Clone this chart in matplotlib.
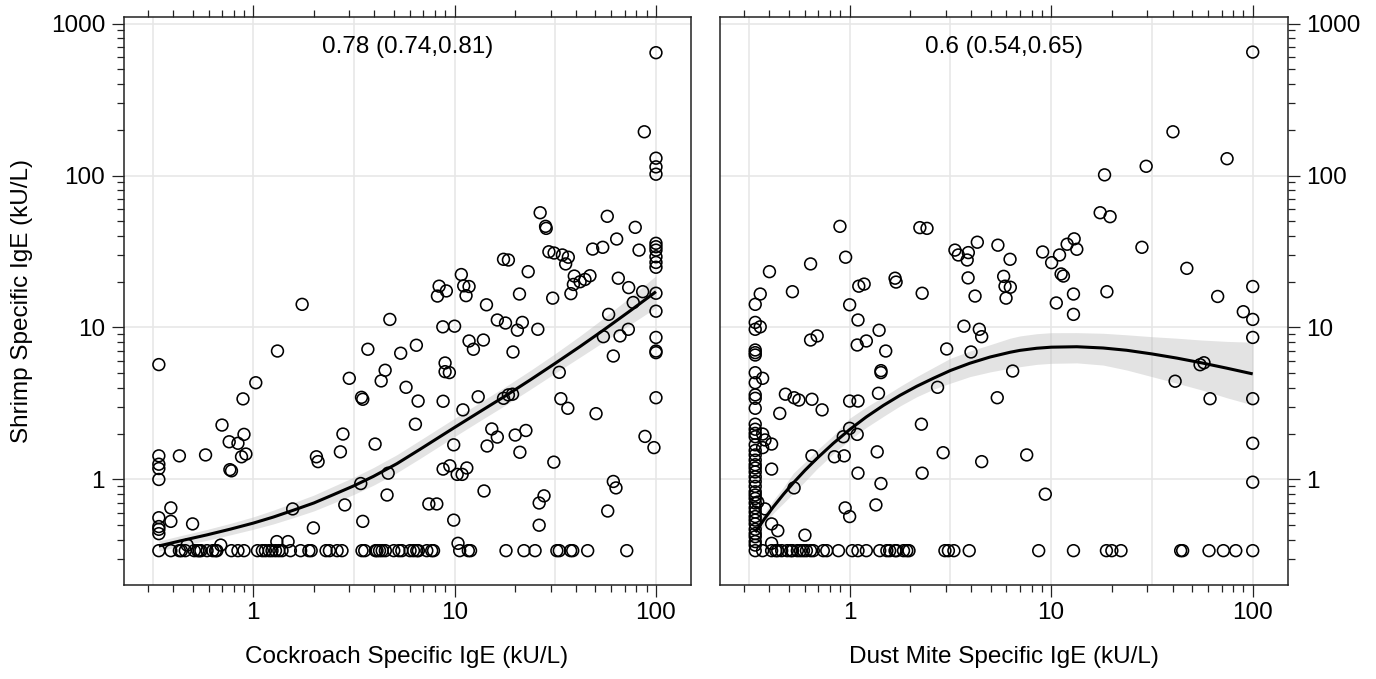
import matplotlib
matplotlib.use("Agg")
import matplotlib.pyplot as plt
from matplotlib.ticker import FixedLocator, NullFormatter

plt.rcParams['font.family'] = ['Liberation Sans', 'DejaVu Sans']

FLOOR = 0.34  # assay detection floor where points pile up

# cockroach vs shrimp specific IgE (kU/L)
cr_pts = [
    (0.34, 5.7), (1.75, 14.2), (4.77, 11.3), (1.32, 7.0), (3.71, 7.19), (5.4, 6.77),
    (6.46, 7.64), (1.03, 4.33), (3.0, 4.63), (4.52, 5.23), (4.32, 4.45), (5.74, 4.04),
    (6.59, 3.28), (3.45, 3.47), (3.5, 3.37), (0.89, 3.39), (0.70, 2.28), (0.76, 1.77),
    (0.84, 1.73), (0.90, 1.98), (0.875, 1.41), (0.92, 1.47), (0.766, 1.16), (0.78, 1.14),
    (0.43, 1.43), (0.58, 1.45), (0.34, 1.43), (0.34, 1.26), (0.34, 1.18), (0.34, 1.0),
    (0.34, 0.56), (0.34, 0.49), (0.34, 0.47), (0.34, 0.44), (0.39, 0.65), (0.39, 0.53),
    (0.50, 0.51), (0.47, 0.37), (0.69, 0.37), (1.31, 0.39), (1.49, 0.39), (1.57, 0.64),
    (1.99, 0.48), (2.06, 1.41), (2.1, 1.31), (2.71, 1.52), (2.79, 1.99), (2.85, 0.68),
    (3.42, 0.94), (3.5, 0.53), (4.03, 1.71), (4.68, 1.1), (4.62, 0.79), (6.39, 2.31),
    (10.4, 0.38), (9.9, 0.54), (7.45, 0.69), (8.16, 0.69), (14.0, 0.84), (26.3, 0.70),
    (27.8, 0.78), (26.3, 0.50), (57.6, 0.62), (61.4, 0.97), (63.3, 0.88), (31.1, 1.3),
    (8.77, 1.17), (9.47, 1.23), (10.3, 1.08), (10.9, 1.08), (11.5, 1.19), (9.9, 1.69),
    (14.5, 1.66), (15.3, 2.15), (16.3, 1.9), (20.0, 1.96), (21.1, 1.51), (22.6, 2.1),
    (17.5, 3.42), (18.5, 3.6), (19.4, 3.64), (11.0, 2.87), (13.1, 3.5), (8.77, 3.27),
    (8.97, 5.84), (8.97, 5.12), (9.42, 5.05), (19.5, 6.9), (33.1, 5.07), (33.7, 3.4),
    (36.5, 2.94), (50.4, 2.71), (61.4, 6.49), (88.2, 1.92), (97.7, 1.62), (100, 3.45),
    (100, 7.0), (100, 6.83), (100, 130), (100, 114), (100, 102), (26.6, 56.9),
    (28.3, 46.3), (28.5, 44.9), (57.3, 53.9), (78.9, 45.6), (63.8, 38.2), (82.4, 32.3),
    (48.5, 32.8), (54.4, 33.7), (29.4, 31.5), (31.2, 30.9), (34.3, 30), (36.7, 29),
    (35.6, 26.2), (39.3, 21.8), (42, 20), (44.4, 20.7), (47, 21.9), (38.9, 19.2),
    (100, 35.8), (100, 34), (100, 32.3), (100, 29.2), (100, 26.8), (100, 24.9),
    (65, 21.1), (73.2, 18.3), (85.9, 17.2), (100, 16.8), (100, 12.8), (100, 8.6),
    (77.1, 14.6), (58.2, 12.2), (54.8, 8.7), (66.3, 8.8), (72.9, 9.73), (37.8, 16.7),
    (30.7, 15.6), (23.2, 23.3), (21.0, 16.6), (17.5, 28.1), (18.5, 27.8), (16.3, 11.2),
    (17.9, 10.7), (20.5, 9.6), (21.7, 10.8), (25.9, 9.73), (14.4, 14.1), (10.8, 22.3),
    (11.1, 18.8), (11.8, 18.6), (11.4, 16.2), (8.38, 18.7), (9.1, 17.4), (8.22, 16.1),
    (8.74, 10.1), (10.0, 10.2), (11.8, 8.15), (13.9, 8.27), (12.4, 7.19), (100, 643),
    (87.5, 194),
]
cr_floor_x = [
    0.34, 0.39, 0.43, 0.44, 0.46, 0.51, 0.53, 0.54, 0.55, 0.59, 0.63, 0.65, 0.66, 0.78,
    0.84, 0.90, 1.05, 1.11, 1.15, 1.2, 1.24, 1.29, 1.34, 1.39, 1.53, 1.72, 1.89, 1.94,
    2.3, 2.39, 2.61, 2.76, 3.47, 3.58, 4.05, 4.12, 4.24, 4.37, 4.53, 4.99, 5.29, 5.47,
    6.01, 6.25, 6.49, 6.61, 7.28, 7.7, 7.86, 10.6, 11.7, 12.0, 18.0, 22.1, 25.1, 32.2,
    33.1, 37.7, 38.6, 45.8, 71.6,
]
cr_fit_x = [0.34, 0.434, 0.59, 0.77, 1.0, 1.26, 1.58, 2.0, 2.5, 3.16, 3.95, 5.17, 6.74,
            10, 13.4, 18.2, 23.7, 31.6, 42, 54.8, 74.3, 100]
cr_fit_y = [0.365, 0.394, 0.432, 0.471, 0.516, 0.566, 0.627, 0.70, 0.794, 0.908, 1.047,
            1.27, 1.58, 2.2, 2.8, 3.6, 4.51, 5.81, 7.5, 9.6, 12.85, 17.2]
cr_fit_lo = [0.338, 0.364, 0.398, 0.432, 0.47, 0.51, 0.56, 0.621, 0.70, 0.797, 0.916,
             1.108, 1.376, 1.916, 2.439, 3.128, 3.911, 5.013, 6.383, 8.02, 10.45, 13.5]
cr_fit_hi = [0.394, 0.426, 0.469, 0.514, 0.567, 0.628, 0.702, 0.789, 0.901, 1.035, 1.197,
             1.455, 1.814, 2.526, 3.214, 4.143, 5.2, 6.734, 8.81, 11.49, 15.8, 21.9]
cr_label = "0.78 (0.74,0.81)"

# dust mite vs shrimp specific IgE (kU/L)
dm_pts = [
    (0.895, 46.3), (2.23, 45.4), (2.42, 44.9), (4.3, 36.4), (5.44, 34.8), (3.33, 32.3),
    (3.46, 30), (3.88, 31.1), (3.83, 27.8), (6.25, 28.1), (0.955, 29), (0.64, 26.2),
    (0.40, 23.3), (1.68, 21.1), (1.7, 19.9), (1.11, 18.7), (1.18, 19.3), (2.29, 16.8),
    (3.87, 21.2), (4.19, 16.1), (5.81, 21.7), (5.9, 18.7), (6.27, 18.4), (5.97, 15.6),
    (0.36, 16.6), (0.52, 17.2), (1.0, 14.1), (1.1, 11.2), (1.4, 9.59), (0.36, 10.1),
    (0.64, 8.27), (0.69, 8.8), (1.09, 7.67), (1.21, 8.15), (1.51, 7.0), (3.03, 7.22),
    (3.69, 10.2), (4.4, 9.73), (4.52, 8.7), (4.0, 6.9), (0.37, 4.63), (0.48, 3.64),
    (0.53, 3.45), (0.56, 3.33), (0.65, 3.37), (0.73, 2.87), (0.45, 2.72), (0.37, 1.99),
    (0.38, 1.82), (0.41, 1.71), (0.37, 1.62), (0.41, 1.17), (0.38, 0.64), (0.35, 0.71),
    (0.41, 0.51), (0.44, 0.46), (0.41, 0.38), (0.6, 0.43), (0.53, 0.88), (0.65, 1.43),
    (0.84, 1.41), (0.94, 1.43), (0.93, 1.91), (1.0, 2.17), (1.09, 1.98), (1.1, 1.1),
    (0.95, 0.65), (1.0, 0.57), (1.0, 3.28), (1.1, 3.28), (1.39, 3.69), (1.43, 5.2),
    (1.43, 5.05), (1.37, 1.52), (1.43, 0.94), (1.35, 0.68), (2.73, 4.04), (2.27, 2.31),
    (2.91, 1.5), (2.29, 1.1), (4.52, 1.31), (5.4, 3.45), (6.44, 5.17), (100, 649),
    (40.2, 194), (74.6, 129), (29.6, 115), (18.4, 101), (17.5, 56.9), (19.6, 53.6),
    (28.2, 33.7), (47.1, 24.5), (67, 16.0), (89.8, 12.7), (100, 18.6), (100, 11.3),
    (100, 8.6), (18.9, 17.2), (9.07, 31.4), (10.05, 26.7), (11.0, 30.0), (12.0, 35.3),
    (13.0, 38.3), (13.4, 32.7), (11.2, 22.5), (11.5, 21.8), (10.6, 14.5), (12.9, 16.6),
    (12.9, 12.2), (7.56, 1.45), (9.35, 0.80), (41.2, 4.43), (54.8, 5.69), (57.3, 5.86),
    (61.4, 3.4), (100, 3.4), (100, 1.73), (100, 0.96),
]
# points stacked on the lowest dust mite value
dm_col_y = [
    14.2, 10.8, 9.73, 7.11, 6.83, 6.59, 5.04, 4.33, 3.6, 3.42, 2.94, 2.31, 2.14, 2.01,
    1.91, 1.69, 1.55, 1.45, 1.34, 1.25, 1.19, 1.12, 1.04, 0.97, 0.90, 0.83, 0.79, 0.75,
    0.70, 0.65, 0.61, 0.57, 0.54, 0.51, 0.47, 0.44, 0.42, 0.39, 0.37,
]
dm_floor_x = [
    0.34, 0.37, 0.41, 0.43, 0.44, 0.46, 0.49, 0.51, 0.52, 0.55, 0.57, 0.59, 0.61, 0.64,
    0.66, 0.74, 0.77, 0.88, 1.03, 1.1, 1.21, 1.41, 1.53, 1.58, 1.68, 1.71, 1.85, 1.92,
    1.97, 2.97, 3.09, 3.29, 3.92, 8.67, 12.9, 18.8, 20.0, 22.2, 43.9, 44.9, 60.7, 71.5,
    82.4, 100,
]
dm_fit_x = [0.34, 0.38, 0.418, 0.47, 0.525, 0.6, 0.686, 0.83, 1.0, 1.21, 1.47, 1.78, 2.15,
            2.6, 3.16, 3.95, 4.97, 6.25, 7.0, 8.47, 10, 13.4, 18.1, 23.7, 31.6, 42, 55.8,
            74.3, 100]
dm_fit_y = [0.45, 0.556, 0.66, 0.80, 0.948, 1.148, 1.37, 1.73, 2.13, 2.58, 3.07, 3.58, 4.10,
            4.63, 5.21, 5.82, 6.39, 6.87, 7.07, 7.30, 7.42, 7.47, 7.33, 7.08, 6.70, 6.29,
            5.85, 5.40, 4.95]
dm_fit_lo = [0.42, 0.51, 0.60, 0.70, 0.81, 0.97, 1.17, 1.48, 1.82, 2.2, 2.6, 3.05, 3.5,
             3.92, 4.3, 4.75, 5.1, 5.4, 5.52, 5.72, 5.81, 5.85, 5.66, 5.25, 4.75, 4.3,
             3.88, 3.45, 3.09]
dm_fit_hi = [0.50, 0.61, 0.73, 0.89, 1.1, 1.3, 1.55, 1.95, 2.53, 3.0, 3.5, 4.1, 4.75,
             5.45, 6.27, 7.0, 7.7, 8.5, 8.8, 9.1, 9.24, 9.25, 9.16, 8.95, 8.7, 8.5,
             8.27, 8.1, 8.0]
dm_label = "0.6 (0.54,0.65)"

FS = 17.5
xgrid = [10 ** -0.5, 1, 10 ** 0.5, 10, 10 ** 1.5, 100]
ygrid = [1, 10, 100, 1000]
xminor = [v * d for d in (0.1, 1, 10) for v in range(2, 10)]
yminor = [v * d for d in (0.1, 1, 10, 100) for v in range(2, 10)]


def panel(ax, pts, floor_x, fx, fy, flo, fhi, label, side):
    ax.set_xscale('log')
    ax.set_yscale('log')
    ax.set_xlim(0.2275, 149.3)
    ax.set_ylim(0.202, 1099)
    for g in xgrid:
        ax.axvline(g, color='#e6e6e6', lw=1.1, zorder=0)
    for g in ygrid:
        ax.axhline(g, color='#e6e6e6', lw=1.1, zorder=0)

    ax.fill_between(fx, flo, fhi, color='#bdbdbd', alpha=0.42, lw=0, zorder=1)
    px = [p[0] for p in pts] + list(floor_x)
    py = [p[1] for p in pts] + [FLOOR] * len(floor_x)
    ax.scatter(px, py, s=72, facecolors='none', edgecolors='black', linewidths=1.15, zorder=2)
    ax.plot(fx, fy, color='black', lw=2.2, zorder=3, solid_capstyle='butt',
            solid_joinstyle='round')

    ax.text(0.5, 0.948, label, transform=ax.transAxes, ha='center', va='center', fontsize=FS)

    ax.xaxis.set_major_locator(FixedLocator([1, 10, 100]))
    ax.xaxis.set_minor_locator(FixedLocator(xminor))
    ax.set_xticklabels(['1', '10', '100'])
    ax.xaxis.set_minor_formatter(NullFormatter())
    ax.yaxis.set_major_locator(FixedLocator(ygrid))
    ax.yaxis.set_minor_locator(FixedLocator(yminor))
    ax.set_yticklabels(['1', '10', '100', '1000'])
    ax.yaxis.set_minor_formatter(NullFormatter())

    left = side == 'left'
    ax.tick_params(axis='x', which='both', direction='out', top=True, bottom=True,
                   labeltop=False, labelsize=FS, width=0.9, color='#222222', pad=4)
    ax.tick_params(axis='y', which='both', direction='out', left=left, right=not left,
                   labelleft=left, labelright=not left, labelsize=FS, width=0.9,
                   color='#222222', pad=5)
    ax.tick_params(which='major', length=8.4)
    ax.tick_params(which='minor', length=4.8)
    for s in ax.spines.values():
        s.set_color('#222222')
        s.set_linewidth(1.1)


fig = plt.figure(figsize=(13.76, 6.79), dpi=100)
ax1 = fig.add_axes([0.0899, 0.1384, 0.4123, 0.8361])
ax2 = fig.add_axes([0.5233, 0.1384, 0.4126, 0.8361])

panel(ax1, cr_pts, cr_floor_x, cr_fit_x, cr_fit_y, cr_fit_lo, cr_fit_hi, cr_label, 'left')
dm_all = dm_pts + [(0.34, v) for v in dm_col_y]
panel(ax2, dm_all, dm_floor_x, dm_fit_x, dm_fit_y, dm_fit_lo, dm_fit_hi, dm_label, 'right')

fig.text(407 / 1376, 0.0324, "Cockroach Specific IgE (kU/L)", ha='center', va='center', fontsize=FS)
fig.text(1004 / 1376, 0.0324, "Dust Mite Specific IgE (kU/L)", ha='center', va='center', fontsize=FS)
fig.text(22 / 1376, 0.5565, "Shrimp Specific IgE (kU/L)", rotation=90, ha='center', va='center', fontsize=FS)

fig.savefig("out.png", dpi=100)
